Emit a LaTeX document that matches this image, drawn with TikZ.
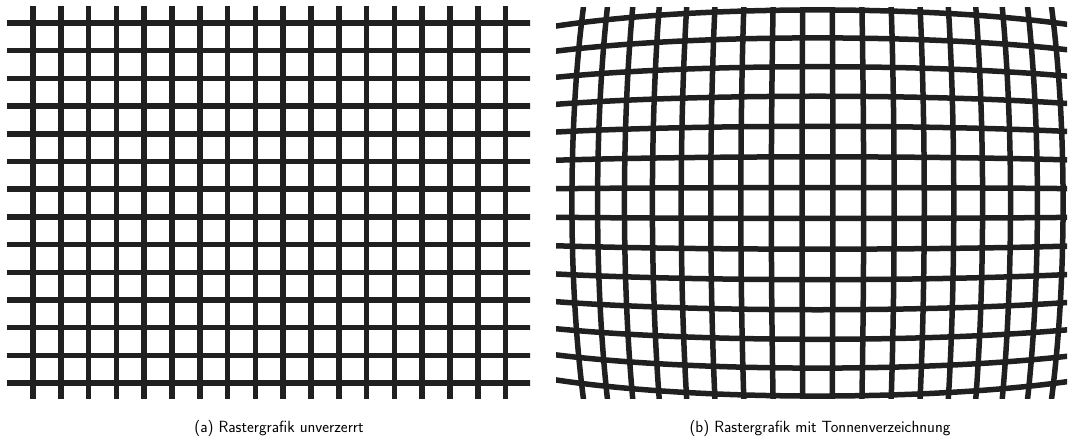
\documentclass[tikz,border=0pt]{standalone}
\usepackage{tikz}
\usetikzlibrary{positioning}
\definecolor{gridink}{RGB}{32, 32, 32}

\begin{document}
\begin{tikzpicture}[
    x=1pt, y=-1pt,
    gridline/.style={draw=gridink, line width=5.5pt},
    subcap/.style={font=\fontsize{16.2pt}{19.5pt}\selectfont\sffamily, anchor=base, inner sep=0pt}
]
    \useasboundingbox (0,0) rectangle (1072,446);

    % (a) undistorted raster
    \begin{scope}
        \clip (7,7) rectangle (530,399);
        \foreach \k in {0,...,17}
            \draw[gridline] ({33+27.8*\k},0) -- ({33+27.8*\k},410);
        \foreach \k in {0,...,13}
            \draw[gridline] (0,{23+27.7*\k}) -- (540,{23+27.7*\k});
    \end{scope}

    % (b) barrel distortion, centre (817.5,203)
    \begin{scope}
        \clip (556,8) rectangle (1067,399);
        \foreach \u in {-8.5,-7.5,...,8.5}
            \draw[gridline] plot[domain=-7.6:7.6, samples=60]
                ({817.5+30.83*\u*(1-0.000876*(\u*\u+\x*\x))},
                 {203+30.83*\x*(1-0.000876*(\u*\u+\x*\x))});
        \foreach \u in {-6.5,-5.5,...,6.5}
            \draw[gridline] plot[domain=-11:11, samples=80]
                ({817.5+30.83*\x*(1-0.000876*(\u*\u+\x*\x))},
                 {203+30.83*\u*(1-0.000876*(\u*\u+\x*\x))});
    \end{scope}

    \node[subcap] (capa) at (279,433) {(a) Rastergrafik unverzerrt};
    \node[subcap] (capb) at (820,433) {(b) Rastergrafik mit Tonnenverzeichnung};
\end{tikzpicture}
\end{document}
